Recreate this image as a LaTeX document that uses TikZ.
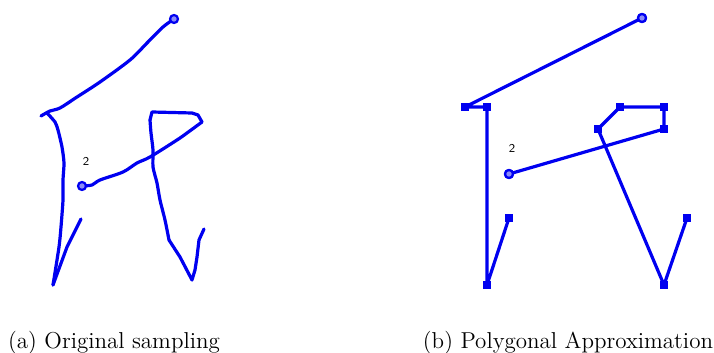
\documentclass[tikz,border=0pt]{standalone}
\usepackage{tikz}
\definecolor{strk}{RGB}{0,0,240}
\tikzset{
  stroke/.style={draw=strk,line width=1.6pt,line cap=round,line join=round},
  sqmark/.style={rectangle,fill=strk,minimum size=4.4pt,inner sep=0pt},
  ringmark/.style={circle,draw=strk,line width=1.1pt,minimum size=4pt,inner sep=0pt,fill=strk!45},
  numlabel/.style={font=\sffamily\fontsize{6}{7}\selectfont,inner sep=0pt},
  caption/.style={font=\fontsize{11.5}{13}\selectfont,inner sep=0pt}
}
\begin{document}
\begin{tikzpicture}[x=0.5pt,y=-0.5pt]
\useasboundingbox (0,0) rectangle (714,353);
% ---------- (a) original sampling ----------
\draw[stroke] plot[smooth,tension=0.5] coordinates {(174,19) (163,27) (147,43) (130,60) (100,82) (77,97) (60,108) (50,111) (41,116)};
\draw[stroke] plot[smooth,tension=0.4] coordinates {(47,113) (55,122) (58,130) (62,147) (64,163) (63,180) (63,200) (61,227) (59,247) (53,285)};
\draw[stroke] (53,285) -- (67,247) -- (81,219);
\node[ringmark] (a1) at (174,19) {};
\draw[stroke] plot[smooth,tension=0.5] coordinates {(82,186) (92,185) (100,180) (123,172) (137,163) (150,157) (177,140) (187,133) (202,122)};
\draw[stroke] (202,122) -- (198,115) -- (192,113) -- (152,112) -- (150,120);
\draw[stroke] plot[smooth,tension=0.4] coordinates {(150,120) (151,133) (153,150) (153,167) (157,183) (160,200) (165,220) (169,240)};
\draw[stroke] (169,240) -- (180,257) -- (192,280) -- (195,270) -- (197,257) -- (199,240) -- (204,229);
\node[ringmark] (a2) at (82,186) {};
\node[numlabel] (la) at (86,161) {2};
% ---------- (b) polygonal approximation ----------
\node[ringmark] (p1) at (642,18) {};
\node[sqmark] (p2) at (465,107) {};
\node[sqmark] (p3) at (487,107) {};
\node[sqmark] (p4) at (487,285) {};
\node[sqmark] (p5) at (509,218) {};
\node[ringmark] (q1) at (509,174) {};
\node[sqmark] (q2) at (664,129) {};
\node[sqmark] (q3) at (664,107) {};
\node[sqmark] (q4) at (620,107) {};
\node[sqmark] (q5) at (598,129) {};
\node[sqmark] (q6) at (664,285) {};
\node[sqmark] (q7) at (687,218) {};
\draw[stroke] (p1.center) -- (p2.center) -- (p3.center) -- (p4.center) -- (p5.center);
\draw[stroke] (q1.center) -- (q2.center) -- (q3.center) -- (q4.center) -- (q5.center) -- (q6.center) -- (q7.center);
\foreach \n in {p2,p3,p4,p5,q2,q3,q4,q5,q6,q7} \node[sqmark] at (\n) {};
\node[ringmark] at (p1) {};
\node[ringmark] at (q1) {};
\node[numlabel] (lb) at (512,148) {2};
% ---------- captions ----------
\node[caption] (ca) at (114,343) {(a) Original sampling};
\node[caption] (cb) at (568,343) {(b) Polygonal Approximation};
\end{tikzpicture}
\end{document}
